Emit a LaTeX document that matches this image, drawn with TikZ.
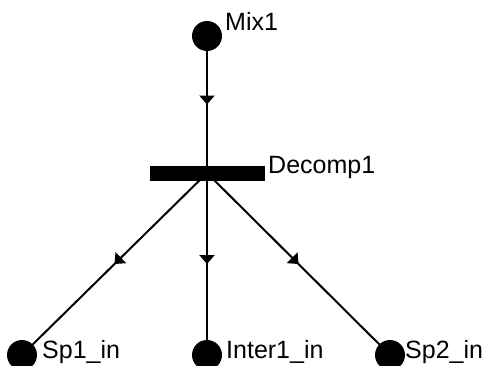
\documentclass[tikz,border=0pt]{standalone}
\usepackage{fontspec}
\setmainfont{Liberation Sans}
\usetikzlibrary{arrows.meta,decorations.markings}
\tikzset{
  place/.style={circle,fill=black,minimum size=30pt,inner sep=0pt},
  trans/.style={rectangle,fill=black,minimum width=115pt,minimum height=15pt,inner sep=0pt},
  lbl/.style={anchor=base west,inner sep=0pt,font=\fontsize{25}{29}\selectfont},
  arc/.style={line width=2pt,postaction={decorate},
    decoration={markings,mark=at position 0.5 with {\arrow{Triangle[width=15pt,length=9pt]}}}}
}
\begin{document}
\begin{tikzpicture}[x=1pt,y=-1pt]
\useasboundingbox (0,0) rectangle (487,365);
\node[place] (mix) at (207,36) {};
\node[trans] (dec) at (207,173) {};
\node[place] (sp1) at (22,355) {};
\node[place] (int) at (207,355) {};
\node[place] (sp2) at (390,355) {};
\node[lbl] (lmix) at (225,30) {Mix1};
\node[lbl] (ldec) at (268,173) {Decomp1};
\node[lbl] (lsp1) at (42,358) {Sp1\_in};
\node[lbl] (lint) at (226,358) {Inter1\_in};
\node[lbl] (lsp2) at (405,358) {Sp2\_in};
\draw[arc] (mix.center) -- (dec.center);
\draw[arc] (dec.center) -- (sp1.center);
\draw[arc] (dec.center) -- (int.center);
\draw[arc] (dec.center) -- (sp2.center);
\end{tikzpicture}
\end{document}
